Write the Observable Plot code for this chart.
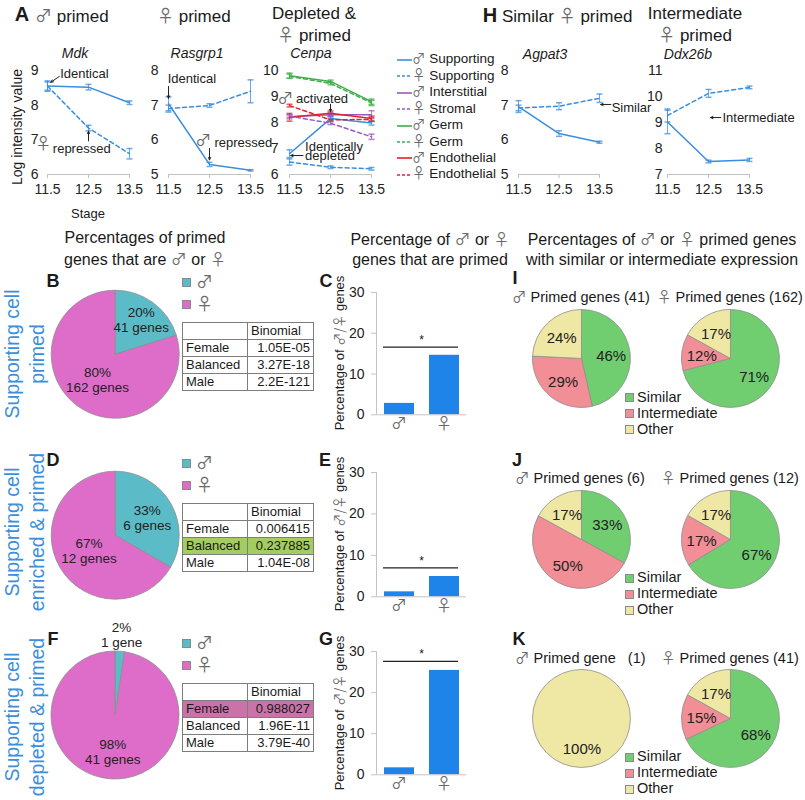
<!DOCTYPE html>
<html>
<head>
<meta charset="utf-8">
<script src="https://cdn.jsdelivr.net/npm/d3@7"></script>
<script src="https://cdn.jsdelivr.net/npm/@observablehq/plot@0.6"></script>
<style>
html,body{margin:0;padding:0;background:#fff;}
#root{position:relative;width:805px;height:800px;overflow:hidden;font-family:'Liberation Sans',Arial,sans-serif;color:#1a1a1a;}
#root > svg{position:absolute;background:transparent !important;overflow:visible !important;max-width:none !important;}
.t{position:absolute;white-space:pre;}
.sym{font-family:'Noto Sans CJK JP','DejaVu Sans',sans-serif;color:#6a6a6a;}
.sq{position:absolute;width:9px;height:9px;box-sizing:border-box;border:1px solid #8a8a8a;}
table.bt{position:absolute;border-collapse:collapse;table-layout:fixed;width:131px;font-size:13px;}
table.bt td{border:1px solid #7d7d7d;height:16px;line-height:16px;padding:0 3px;overflow:hidden;white-space:nowrap;}
table.bt td.v{text-align:right;}
</style>
</head>
<body><div id="root"></div>
<script>
// ================= DATA =================
const stages = [11.5, 12.5, 13.5];
const seriesNames = ["♂ Supporting","♀ Supporting","♂ Interstitial","♀ Stromal","♂ Germ","♀ Germ","♂ Endothelial","♀ Endothelial"];

const mdkMaleSupporting = [8.55, 8.52, 8.07];
const mdkMaleSupportingErr = [0.15, 0.08, 0.05];
const mdkFemaleSupporting = [8.55, 7.34, 6.6];
const mdkFemaleSupportingErr = [0.12, 0.08, 0.15];

const rasgrp1MaleSupporting = [7.04, 5.29, 5.12];
const rasgrp1MaleSupportingErr = [0.2, 0.06, 0.02];
const rasgrp1FemaleSupporting = [6.9, 6.99, 7.4];
const rasgrp1FemaleSupportingErr = [0.1, 0.05, 0.33];

const cenpaMaleSupporting = [6.8, 8.15, 7.98];
const cenpaMaleSupportingErr = [0.15, 0.08, 0.08];
const cenpaFemaleSupporting = [6.48, 6.28, 6.22];
const cenpaFemaleSupportingErr = [0.12, 0.05, 0.05];
const cenpaMaleInterstitial = [8.22, 8.3, 8.3];
const cenpaMaleInterstitialErr = [0.08, 0.08, 0.15];
const cenpaFemaleStromal = [8.25, 7.97, 7.45];
const cenpaFemaleStromalErr = [0.05, 0.05, 0.1];
const cenpaMaleGerm = [9.8, 9.58, 8.8];
const cenpaMaleGermErr = [0.1, 0.05, 0.1];
const cenpaFemaleGerm = [9.78, 9.5, 8.75];
const cenpaFemaleGermErr = [0.08, 0.05, 0.1];
const cenpaMaleEndothelial = [8.2, 8.36, 8.15];
const cenpaMaleEndothelialErr = [0.15, 0.08, 0.1];
const cenpaFemaleEndothelial = [8.65, 8.1, 8.12];
const cenpaFemaleEndothelialErr = [0.05, 0.05, 0.08];

const agpat3MaleSupporting = [6.96, 6.18, 5.93];
const agpat3MaleSupportingErr = [0.17, 0.08, 0.03];
const agpat3FemaleSupporting = [6.92, 6.97, 7.2];
const agpat3FemaleSupportingErr = [0.08, 0.1, 0.12];

const ddx26bMaleSupporting = [9.02, 7.5, 7.56];
const ddx26bMaleSupportingErr = [0.45, 0.05, 0.06];
const ddx26bFemaleSupporting = [9.27, 10.12, 10.35];
const ddx26bFemaleSupportingErr = [0.25, 0.15, 0.05];

const mdkNotes = [{x: 11.81, y: 8.9, text: "Identical"}, {x: 11.63, y: 6.75, text: "repressed"}];
const mdkSymbols = [{x: 11.2, y: 6.88, text: "♀"}];
const mdkArrows = [{x1: 11.79, y1: 8.83, x2: 11.58, y2: 8.66}, {x1: 12.5, y1: 6.97, x2: 12.5, y2: 7.25}];
const rasgrp1Notes = [{x: 11.48, y: 7.77, text: "Identical"}, {x: 12.62, y: 5.92, text: "repressed"}];
const rasgrp1Symbols = [{x: 12.15, y: 5.98, text: "♂"}];
const rasgrp1Arrows = [{x1: 11.5, y1: 7.54, x2: 11.5, y2: 7.2}, {x1: 12.5, y1: 5.75, x2: 12.5, y2: 5.42}];
const cenpaNotes = [{x: 11.66, y: 8.92, text: "activated"}, {x: 11.88, y: 7.08, text: "Identically"}, {x: 11.88, y: 6.7, text: "depleted"}];
const cenpaSymbols = [{x: 11.2, y: 8.9, text: "♂"}];
const cenpaArrows = [{x1: 12.5, y1: 8.7, x2: 12.5, y2: 8.42}, {x1: 11.83, y1: 6.73, x2: 11.53, y2: 6.73}];
const agpat3Notes = [{x: 13.8, y: 6.93, text: "Similar"}];
const agpat3Arrows = [{x1: 13.78, y1: 7.02, x2: 13.53, y2: 7.02}];
const ddx26bNotes = [{x: 12.84, y: 9.19, text: "Intermediate"}];
const ddx26bArrows = [{x1: 12.8, y1: 9.19, x2: 12.55, y2: 9.19}];

const sexCategories = ["♂", "♀"];
const bPercent = [20, 80];
const bGenes = [41, 162];
const dPercent = [33, 67];
const dGenes = [6, 12];
const fPercent = [2, 98];
const fGenes = [1, 41];

const tableRows = ["Female", "Balanced", "Male"];
const tableHeader = "Binomial";
const bBinomial = ["1.05E-05", "3.27E-18", "2.2E-121"];
const dBinomial = ["0.006415", "0.237885", "1.04E-08"];
const fBinomial = ["0.988027", "1.96E-11", "3.79E-40"];

const barCategories = ["♂", "♀"];
const barTicks = [0, 10, 20, 30];
const cPercentPrimed = [2.8, 14.6];
const cSignificance = 16.6;
const ePercentPrimed = [1.2, 4.9];
const eSignificance = 7.0;
const gPercentPrimed = [1.7, 25.4];
const gSignificance = 27.6;

const exprCategories = ["Similar", "Intermediate", "Other"];
const iMale = [46, 29, 24];
const iFemale = [71, 12, 17];
const jMale = [33, 50, 17];
const jFemale = [67, 17, 17];
const kMale = [0, 0, 100];
const kFemale = [68, 15, 17];
const iCounts = [41, 162];
const jCounts = [6, 12];
const kCounts = [1, 41];

// ================= STYLES =================
const seriesColors = ["#3b8ddd","#3b8ddd","#9b59c0","#9b59c0","#3fae4a","#3fae4a","#e3232b","#e3232b"];
const seriesDashed = [false,true,false,true,false,true,false,true];
const FONT = "'Liberation Sans', Arial, sans-serif";
const SYMFONT = "'Noto Sans CJK JP', 'DejaVu Sans', sans-serif";
const BLUE = "#3b8fdc";
const sexColor = Plot.scale({color: {type: "ordinal", domain: sexCategories, range: ["#5bbcc7", "#dd6dc9"]}});
const exprColor = Plot.scale({color: {type: "ordinal", domain: exprCategories, range: ["#70cd70", "#f28e96", "#efe8a4"]}});

const root = document.getElementById("root");
const S = s => `<span class="sym">${s}</span>`;

function put(html, x, y, o = {}) {
  const d = document.createElement("div");
  d.className = "t";
  d.innerHTML = html;
  const a = o.anchor || "middle";
  const tx = a === "start" ? "0" : a === "end" ? "-100%" : "-50%";
  d.style.left = x + "px";
  d.style.top = y + "px";
  d.style.transform = `translate(${tx},-50%)` + (o.rotate ? ` rotate(${o.rotate}deg)` : "");
  d.style.fontSize = (o.size || 16) + "px";
  d.style.lineHeight = o.lh || "1.2";
  d.style.textAlign = o.align || "center";
  if (o.weight) d.style.fontWeight = o.weight;
  if (o.color) d.style.color = o.color;
  if (o.italic) d.style.fontStyle = "italic";
  root.appendChild(d);
  return d;
}
function place(svg, left, top) {
  svg.style.left = left + "px";
  svg.style.top = top + "px";
  svg.style.fontFamily = FONT;
  root.appendChild(svg);
}
function square(x, y, color) {
  const d = document.createElement("div");
  d.className = "sq";
  d.style.left = x + "px";
  d.style.top = (y - 4.5) + "px";
  d.style.background = color;
  root.appendChild(d);
}

const capSymbol = {draw(ctx) { ctx.moveTo(-3, 0); ctx.lineTo(3, 0); }};

// ================= LINE PANELS =================
function linePanel(o) {
  const pad = 60;
  const [fx0, fx1] = o.xr, [fy0, fy1] = o.yr;
  const rows = o.series.flatMap(s => stages.map((st, i) => ({
    name: s.name, dashed: seriesDashed[seriesNames.indexOf(s.name)], stage: st, v: s.values[i], e: s.err[i]})));
  const svg = Plot.plot({
    width: fx1 - fx0 + 2 * pad, height: fy1 - fy0 + 2 * pad, margin: pad,
    x: {domain: [11.5, 13.5]}, y: {domain: o.ydomain},
    color: {domain: seriesNames, range: seriesColors},
    marks: [
      Plot.ruleY([o.ydomain[0]], {stroke: "#c2c2c2"}),
      Plot.axisX({ticks: stages, tickFormat: d => d.toFixed(1), tickSize: 4, tickPadding: 6, stroke: "#c2c2c2", fill: "#222", fontSize: 14, label: null}),
      Plot.axisY({ticks: d3.range(o.ydomain[0], o.ydomain[1] + 1), tickFormat: d => String(d), tickSize: 0, tickPadding: o.tp, fill: "#222", fontSize: 14, label: null}),
      Plot.ruleX(rows, {x: "stage", y1: d => d.v - d.e, y2: d => d.v + d.e, stroke: "name", strokeOpacity: 0.75}),
      Plot.dot(rows, {x: "stage", y: d => d.v + d.e, symbol: capSymbol, fill: "none", stroke: "name", strokeOpacity: 0.75}),
      Plot.dot(rows, {x: "stage", y: d => d.v - d.e, symbol: capSymbol, fill: "none", stroke: "name", strokeOpacity: 0.75}),
      Plot.line(rows.filter(d => !d.dashed), {x: "stage", y: "v", z: "name", stroke: "name", strokeWidth: 1.5}),
      Plot.line(rows.filter(d => d.dashed), {x: "stage", y: "v", z: "name", stroke: "name", strokeWidth: 1.5, strokeDasharray: "4,3"}),
      Plot.text(o.notes, {x: "x", y: "y", text: "text", textAnchor: "start", fontSize: 13, fill: "#222"}),
      Plot.text(o.symbols || [], {x: "x", y: "y", text: "text", textAnchor: "start", fontSize: 16, fontFamily: SYMFONT, fill: "#666"}),
      Plot.arrow(o.arrows, {x1: "x1", y1: "y1", x2: "x2", y2: "y2", stroke: "#222", strokeWidth: 1, headLength: 4, headAngle: 50})
    ]
  });
  place(svg, fx0 - pad, fy0 - pad);
}
const ser = (name, values, err) => ({name, values, err});

linePanel({xr: [47, 129], yr: [70, 174], ydomain: [6, 9], tp: 9,
  series: [ser("♂ Supporting", mdkMaleSupporting, mdkMaleSupportingErr), ser("♀ Supporting", mdkFemaleSupporting, mdkFemaleSupportingErr)],
  notes: mdkNotes, symbols: mdkSymbols, arrows: mdkArrows});
linePanel({xr: [168, 250], yr: [70, 174], ydomain: [5, 8], tp: 10,
  series: [ser("♂ Supporting", rasgrp1MaleSupporting, rasgrp1MaleSupportingErr), ser("♀ Supporting", rasgrp1FemaleSupporting, rasgrp1FemaleSupportingErr)],
  notes: rasgrp1Notes, symbols: rasgrp1Symbols, arrows: rasgrp1Arrows});
linePanel({xr: [289, 371], yr: [70, 174], ydomain: [6, 10], tp: 11,
  series: [
    ser("♀ Stromal", cenpaFemaleStromal, cenpaFemaleStromalErr),
    ser("♂ Interstitial", cenpaMaleInterstitial, cenpaMaleInterstitialErr),
    ser("♀ Germ", cenpaFemaleGerm, cenpaFemaleGermErr),
    ser("♂ Germ", cenpaMaleGerm, cenpaMaleGermErr),
    ser("♀ Endothelial", cenpaFemaleEndothelial, cenpaFemaleEndothelialErr),
    ser("♂ Endothelial", cenpaMaleEndothelial, cenpaMaleEndothelialErr),
    ser("♀ Supporting", cenpaFemaleSupporting, cenpaFemaleSupportingErr),
    ser("♂ Supporting", cenpaMaleSupporting, cenpaMaleSupportingErr)],
  notes: cenpaNotes, symbols: cenpaSymbols, arrows: cenpaArrows});
linePanel({xr: [518, 599], yr: [70, 174], ydomain: [5, 8], tp: 10,
  series: [ser("♂ Supporting", agpat3MaleSupporting, agpat3MaleSupportingErr), ser("♀ Supporting", agpat3FemaleSupporting, agpat3FemaleSupportingErr)],
  notes: agpat3Notes, arrows: agpat3Arrows});
linePanel({xr: [667, 749], yr: [70, 174], ydomain: [7, 11], tp: 5,
  series: [ser("♂ Supporting", ddx26bMaleSupporting, ddx26bMaleSupportingErr), ser("♀ Supporting", ddx26bFemaleSupporting, ddx26bFemaleSupportingErr)],
  notes: ddx26bNotes, arrows: ddx26bArrows});

// line legend
seriesNames.forEach((n, i) => {
  const y = 58.3 + i * 16.45;
  const line = `<svg width="15" height="4" style="vertical-align:middle;overflow:visible"><line x1="0" y1="2" x2="15" y2="2" stroke="${seriesColors[i]}" stroke-width="1.6" ${seriesDashed[i] ? 'stroke-dasharray="3,2"' : ""}/></svg>`;
  put(line + S(n.slice(0, 1)) + " " + n.slice(2), 397, y, {anchor: "start", size: 13.5, align: "left", lh: "15px"});
});

// top titles
put("A", 22, 14, {size: 20, weight: "bold"});
put(S("♂") + " primed", 35, 16, {anchor: "start", size: 17});
put(S("♀") + " primed", 157, 16, {anchor: "start", size: 17});
put("Depleted &amp;<br>" + S("♀") + " primed", 314, 25, {size: 17, lh: "20px"});
put("H", 490, 15, {size: 20, weight: "bold"});
put("Similar " + S("♀") + " primed", 502, 16, {anchor: "start", size: 17});
put("Intermediate<br>" + S("♀") + " primed", 695, 25, {size: 17, lh: "20px"});
put("Mdk", 75, 53, {size: 14, italic: true});
put("Rasgrp1", 197, 53, {size: 14, italic: true});
put("Cenpa", 311, 53, {size: 14, italic: true});
put("Agpat3", 545, 54, {size: 14, italic: true});
put("Ddx26b", 688, 54, {size: 14, italic: true});
put("Log intensity value", 17, 127, {size: 14, rotate: -90});
put("Stage", 88, 214, {size: 13});

// column headers
put("Percentages of primed<br>genes that are " + S("♂") + " or " + S("♀"), 145, 249, {size: 16, lh: "20px"});
put("Percentage of " + S("♂") + " or " + S("♀") + "<br>genes that are primed", 430, 249, {size: 16, lh: "20px"});
put("Percentages of " + S("♂") + " or " + S("♀") + " primed genes<br>with similar or intermediate expression", 662, 249, {size: 16, lh: "20px"});

// row labels
put("Supporting cell<br>primed", 24.5, 354, {size: 19.5, lh: "25px", rotate: -90, color: BLUE});
put("Supporting cell<br>enriched &amp; primed", 24.5, 532, {size: 19.5, lh: "25px", rotate: -90, color: BLUE});
put("Supporting cell<br>depleted &amp; primed", 24.5, 717, {size: 19.5, lh: "25px", rotate: -90, color: BLUE});

// ================= PIES =================
function piePlot(o) {
  const ext = o.ext || 1.05;
  const rows = o.cats.map((c, i) => ({cat: c, v: o.values[i], label: o.labels[i], k: o.labelK[i]}));
  const arcs = d3.pie().sort(null).value(d => d.v)(rows);
  const mid = a => (a.startAngle + a.endAngle) / 2;
  const size = 2 * ext * o.r;
  const svg = Plot.plot({
    width: size, height: size, margin: 0,
    x: {domain: [-ext, ext], axis: null}, y: {domain: [-ext, ext], axis: null},
    marks: [
      (index, scales) => {
        const x0 = scales.x(0), y0 = scales.y(0), rad = scales.x(1) - x0;
        const arc = d3.arc().innerRadius(0).outerRadius(rad);
        const g = d3.create("svg:g").attr("transform", `translate(${x0},${y0})`);
        g.selectAll("path").data(arcs).join("path")
          .attr("d", arc).attr("fill", d => o.color.apply(d.data.cat))
          .attr("stroke", "#8e8e8e").attr("stroke-width", 0.8);
        return g.node();
      },
      Plot.text(arcs.filter(a => a.data.v > 0), {
        x: a => a.data.k * Math.sin(mid(a)), y: a => a.data.k * Math.cos(mid(a)),
        text: a => a.data.label, fontSize: o.fontSize, lineHeight: 1.12, fill: "#222"})
    ]
  });
  place(svg, o.cx - size / 2, o.cy - size / 2);
}

function binomTable(left, top, values, hi) {
  const t = document.createElement("table");
  t.className = "bt";
  t.style.left = left + "px";
  t.style.top = top + "px";
  t.innerHTML = `<colgroup><col style="width:65px"><col style="width:66px"></colgroup>` +
    `<tr><td></td><td>${tableHeader}</td></tr>` +
    tableRows.map((r, i) => `<tr${hi && hi[0] === i ? ` style="background:${hi[1]}"` : ""}><td>${r}</td><td class="v">${values[i]}</td></tr>`).join("");
  root.appendChild(t);
}

const geneLabel = (p, g) => `${p}%\n${g} gene${g === 1 ? "" : "s"}`;
const sexRows = [
  {pct: bPercent, genes: bGenes, cy: 354, legendY: [282, 304], tableTop: 322, binom: bBinomial, hi: null, letter: ["B", 53, 282], labelK: [0.675, 0.48], ext: 1.05},
  {pct: dPercent, genes: dGenes, cy: 535, legendY: [463, 485], tableTop: 503, binom: dBinomial, hi: [1, "#a3cd60"], letter: ["D", 53, 461], labelK: [0.57, 0.48], ext: 1.05},
  {pct: fPercent, genes: fGenes, cy: 715, legendY: [643, 665], tableTop: 683, binom: fBinomial, hi: [0, "#cb72ab"], letter: ["F", 53, 640], labelK: [1.26, 0.56], ext: 1.5}
];
sexRows.forEach(r => {
  piePlot({cx: 115, cy: r.cy, r: 64, cats: sexCategories, values: r.genes, color: sexColor,
    labels: r.pct.map((p, i) => geneLabel(p, r.genes[i])), labelK: r.labelK, ext: r.ext, fontSize: 13.5});
  put(r.letter[0], r.letter[1], r.letter[2], {size: 18, weight: "bold"});
  sexCategories.forEach((c, i) => {
    square(182, r.legendY[i], sexColor.apply(c));
    put(S(c), 196, r.legendY[i], {anchor: "start", size: 17});
  });
  binomTable(182, r.tableTop, r.binom, r.hi);
});

// ================= BARS =================
function barPanel(o) {
  const pad = 40, fx0 = 376, fx1 = 466;
  const rows = barCategories.map((c, i) => ({c, i, v: o.values[i]}));
  const svg = Plot.plot({
    width: fx1 - fx0 + 2 * pad, height: o.y0 - o.y30 + 2 * pad, margin: pad,
    x: {domain: [0, 2]}, y: {domain: [0, 30]},
    marks: [
      Plot.rectY(rows, {x: "i", interval: 1, y: "v", fill: "#1f84ea", insetLeft: 8, insetRight: 7}),
      Plot.ruleY([0], {stroke: "#c4c4c4"}),
      Plot.ruleX([0], {stroke: "#c4c4c4"}),
      Plot.axisY({ticks: barTicks, tickSize: 5, tickPadding: 7, stroke: "#c4c4c4", fill: "#222", fontSize: 14, label: null}),
      Plot.axisX({ticks: [0.5, 1.5], tickFormat: d => barCategories[Math.floor(d)], tickSize: 0, tickPadding: 3, fill: "#6a6a6a", fontSize: 16, fontFamily: SYMFONT, label: null}),
      Plot.ruleY([o.sig], {stroke: "#222", strokeWidth: 1.2, insetLeft: 7, insetRight: 8}),
      Plot.text([o.sig], {y: d => d, text: () => "*", dy: -7, fontSize: 12, fill: "#222"})
    ]
  });
  place(svg, fx0 - pad, o.y30 - pad);
  put(o.letter[0], o.letter[1], o.letter[2], {size: 18, weight: "bold"});
  put("Percentage of " + S("♂/♀") + " genes", 339, (o.y0 + o.y30) / 2, {size: 13, rotate: -90});
}
barPanel({values: cPercentPrimed, sig: cSignificance, y30: 291.7, y0: 414, letter: ["C", 326, 282]});
barPanel({values: ePercentPrimed, sig: eSignificance, y30: 471.7, y0: 596, letter: ["E", 325, 461]});
barPanel({values: gPercentPrimed, sig: gSignificance, y30: 651, y0: 774.3, letter: ["G", 326, 640]});

// ================= EXPRESSION PIES =================
const exprRows = [
  {male: iMale, female: iFemale, counts: iCounts, cy: 358.5, titleY: 297, legendY: 397.5, letter: ["I", 515, 279], mx: 512, fx: 657},
  {male: jMale, female: jFemale, counts: jCounts, cy: 539, titleY: 478, legendY: 578, letter: ["J", 517, 461], mx: 515, fx: 661},
  {male: kMale, female: kFemale, counts: kCounts, cy: 718.3, titleY: 658, legendY: 757, letter: ["K", 519, 640], mx: 515, fx: 661}
];
exprRows.forEach(r => {
  put(r.letter[0], r.letter[1], r.letter[2], {size: 18, weight: "bold"});
  const mt = r.counts[0] === 1 ? `Primed gene   (${r.counts[0]})` : `Primed genes (${r.counts[0]})`;
  put(S("♂") + " " + mt, r.mx, r.titleY, {anchor: "start", size: 14.5});
  put(S("♀") + ` Primed genes (${r.counts[1]})`, r.fx, r.titleY, {anchor: "start", size: 14.5});
  piePlot({cx: 581.7, cy: r.cy, r: 49, cats: exprCategories, values: r.male, color: exprColor,
    labels: r.male.map(p => `${p}%`), labelK: [0.6, 0.6, 0.6], fontSize: 15});
  piePlot({cx: 730, cy: r.cy, r: 49, cats: exprCategories, values: r.female, color: exprColor,
    labels: r.female.map(p => `${p}%`), labelK: [0.6, 0.6, 0.6], fontSize: 15});
  exprCategories.forEach((c, i) => {
    const y = r.legendY + i * 16;
    square(625, y, exprColor.apply(c));
    put(c, 637, y, {anchor: "start", size: 14.5});
  });
});
</script>
</body>
</html>
